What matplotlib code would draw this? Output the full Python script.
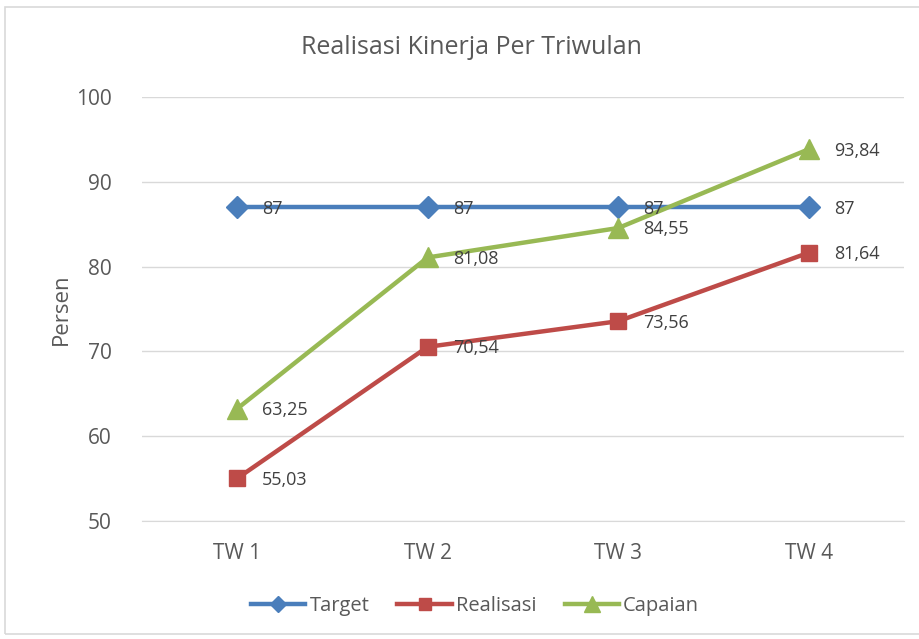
import matplotlib
matplotlib.use("Agg")
import matplotlib.pyplot as plt
from matplotlib.patches import Rectangle

categories = ["TW 1", "TW 2", "TW 3", "TW 4"]
target = [87, 87, 87, 87]
realisasi = [55.03, 70.54, 73.56, 81.64]
capaian = [63.25, 81.08, 84.55, 93.84]

plt.rcParams['font.family'] = ['Open Sans', 'DejaVu Sans']
grey = '#595959'

fig = plt.figure(figsize=(9.2, 6.39), dpi=100)
ax = fig.add_axes([142/920, 1 - 521/639, (904 - 142)/920, (521 - 97)/639])

# chart border
fig.patches.append(Rectangle((5/920, 5/639), 1.0, 627/639, transform=fig.transFigure,
                             fill=False, edgecolor='#D9D9D9', linewidth=1.2))

x = range(len(categories))
series = [
    ("Target", target, '#4A7EBB', 'D', 11),
    ("Realisasi", realisasi, '#BE4B48', 's', 12),
    ("Capaian", capaian, '#98B954', '^', 15),
]
for name, vals, col, mk, ms in series:
    ax.plot(x, vals, color=col, lw=3.2, marker=mk, markersize=ms, label=name, zorder=3)

def fmt(v):
    if v == int(v):
        return str(int(v))
    return f"{v:.2f}".replace('.', ',')

for name, vals, col, mk, ms in series:
    for i, v in enumerate(vals):
        ax.annotate(fmt(v), (i, v), xytext=(18, -1), textcoords='offset points',
                    ha='left', va='center', fontsize=13, color='#404040', zorder=4)

ax.set_xlim(-0.5, 3.5)
ax.set_ylim(50, 100)
ax.set_yticks(range(50, 101, 10))
ax.set_xticks(list(x))
ax.set_xticklabels(categories)
ax.grid(axis='y', color='#D9D9D9', lw=1)
ax.set_axisbelow(True)
for s in ['top', 'right', 'left']:
    ax.spines[s].set_visible(False)
ax.spines['bottom'].set_color('#D9D9D9')
ax.tick_params(axis='both', length=0, labelsize=15, colors=grey)
ax.tick_params(axis='y', pad=22)
ax.tick_params(axis='x', pad=16)
ax.set_ylabel("Persen", fontsize=16, color=grey, labelpad=3)

fig.text(471/920, 1 - 47/639, "Realisasi Kinerja Per Triwulan", ha='center', va='center',
         fontsize=18, color=grey)

leg = fig.legend(loc='center', bbox_to_anchor=(475/920, 1 - 606/639), ncol=3, frameon=False,
                 fontsize=14.5, handlelength=2.7, columnspacing=1.4, handletextpad=0.2,
                 markerscale=0.75)
for t in leg.get_texts():
    t.set_color(grey)

fig.savefig("out.png", dpi=100)
